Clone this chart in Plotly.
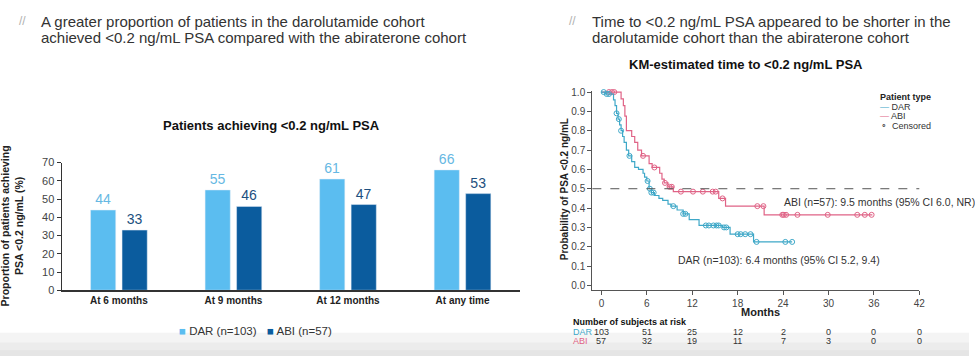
import plotly.graph_objects as go

W, H = 975, 362
FONT = "Liberation Sans, Arial, sans-serif"

# ---------------- data ----------------
categories = ["At 6 months", "At 9 months", "At 12 months", "At any time"]
dar_pct = [44, 55, 61, 66]
abi_pct = [33, 46, 47, 53]

dar_time = [0, 0.5, 1.6, 1.8, 2.0, 2.2, 2.4, 2.6, 2.8, 3.0, 3.3, 3.6, 4.0, 4.4, 4.9, 5.5, 5.7, 6.0,
            6.3, 6.6, 7.0, 7.6, 8.1, 8.8, 9.2, 10.0, 10.8, 11.6, 12.9, 16.0, 17.0, 20.1, 25.2]
dar_surv = [1.0, 0.99, 0.96, 0.93, 0.89, 0.86, 0.83, 0.80, 0.77, 0.74, 0.70, 0.67, 0.64, 0.61, 0.60,
            0.58, 0.56, 0.54, 0.50, 0.48, 0.465, 0.45, 0.44, 0.42, 0.41, 0.39, 0.37, 0.34, 0.31,
            0.30, 0.265, 0.225, 0.225]
dar_cens_time = [0.3, 0.7, 1.0, 2.0, 2.3, 2.6, 3.7, 6.1, 6.4, 6.6, 6.9, 9.5, 10.8, 11.1, 13.8, 14.2,
                 14.8, 15.2, 15.5, 16.2, 16.5, 18.0, 18.4, 19.0, 19.7, 20.5, 24.3, 25.2]
dar_cens_surv = [1.0, 0.99, 0.99, 0.89, 0.86, 0.80, 0.67, 0.54, 0.50, 0.48, 0.48, 0.41, 0.37, 0.37,
                 0.31, 0.31, 0.31, 0.31, 0.31, 0.30, 0.30, 0.265, 0.265, 0.265, 0.265, 0.225, 0.225, 0.225]

abi_time = [0, 2.6, 2.9, 3.1, 3.3, 4.0, 4.4, 4.8, 5.3, 6.3, 6.7, 7.7, 8.0, 8.3, 8.8, 9.5, 15.5, 16.4,
            21.5, 35.8]
abi_surv = [1.0, 0.965, 0.93, 0.875, 0.80, 0.77, 0.74, 0.70, 0.67, 0.63, 0.61, 0.58, 0.55, 0.53,
            0.51, 0.485, 0.45, 0.41, 0.365, 0.365]
abi_cens_time = [1.0, 1.4, 1.7, 5.5, 7.0, 8.4, 9.0, 9.3, 10.5, 12.1, 13.4, 14.7, 15.1, 16.0, 20.6,
                 21.4, 23.9, 24.1, 24.4, 25.9, 29.9, 33.8, 34.8, 35.7]
abi_cens_surv = [1.0, 1.0, 1.0, 0.67, 0.61, 0.53, 0.51, 0.51, 0.485, 0.485, 0.485, 0.485, 0.485, 0.45,
                 0.41, 0.41, 0.365, 0.365, 0.365, 0.365, 0.365, 0.365, 0.365, 0.365]

risk_times = [0, 6, 12, 18, 24, 30, 36, 42]
risk_dar = [103, 51, 25, 12, 2, 0, 0, 0]
risk_abi = [57, 32, 19, 11, 7, 3, 0, 0]

# ---------------- styles ----------------
C_DAR_BAR = "#5bbdf0"
C_ABI_BAR = "#0b5c9e"
C_DAR_LBL = "#66b8e3"
C_ABI_LBL = "#1d4f7e"
C_DAR_KM = "#3ea8c8"
C_ABI_KM = "#e06386"
AX = "#555555"


def px(x):
    return x / W


def py(y):
    return 1 - y / H


fig = go.Figure()

# bar chart
fig.add_trace(go.Bar(x=categories, y=dar_pct, marker_color=C_DAR_BAR, text=dar_pct,
                     textposition="outside", cliponaxis=False,
                     textfont=dict(size=14, color=C_DAR_LBL, family=FONT),
                     xaxis="x", yaxis="y", showlegend=False))
fig.add_trace(go.Bar(x=categories, y=abi_pct, marker_color=C_ABI_BAR, text=abi_pct,
                     textposition="outside", cliponaxis=False,
                     textfont=dict(size=14, color=C_ABI_LBL, family=FONT),
                     xaxis="x", yaxis="y", showlegend=False))

# KM curves
fig.add_trace(go.Scatter(x=abi_time, y=abi_surv, mode="lines", line=dict(color=C_ABI_KM, width=1.2, shape="hv"),
                         xaxis="x2", yaxis="y2", showlegend=False, cliponaxis=False))
fig.add_trace(go.Scatter(x=abi_cens_time, y=abi_cens_surv, mode="markers",
                         marker=dict(symbol="circle-open", size=5, color=C_ABI_KM, line=dict(width=1)),
                         xaxis="x2", yaxis="y2", showlegend=False, cliponaxis=False))
fig.add_trace(go.Scatter(x=dar_time, y=dar_surv, mode="lines", line=dict(color=C_DAR_KM, width=1.2, shape="hv"),
                         xaxis="x2", yaxis="y2", showlegend=False, cliponaxis=False))
fig.add_trace(go.Scatter(x=dar_cens_time, y=dar_cens_surv, mode="markers",
                         marker=dict(symbol="circle-open", size=5, color=C_DAR_KM, line=dict(width=1)),
                         xaxis="x2", yaxis="y2", showlegend=False, cliponaxis=False))

annotations = []


def ann(x, y, text, size=12, color="#333333", xanchor="center", yanchor="middle", bold=False, **kw):
    if bold:
        text = "<b>" + text + "</b>"
    d = dict(x=x, y=y, text=text, showarrow=False, xanchor=xanchor, yanchor=yanchor,
             font=dict(size=size, color=color, family=FONT))
    d.setdefault("xref", "paper")
    d.setdefault("yref", "paper")
    d.update(kw)
    annotations.append(d)


# headers
ann(px(17), py(16), "//", size=12, color="#b0b0b0", xanchor="left")
ann(px(39), py(16), "A greater proportion of patients in the darolutamide cohort", size=15, xanchor="left")
ann(px(39), py(33), "achieved <0.2 ng/mL PSA compared with the abiraterone cohort", size=15, xanchor="left")
ann(px(571), py(16), "//", size=12, color="#b0b0b0", xanchor="left")
ann(px(594), py(16), "Time to <0.2 ng/mL PSA appeared to be shorter in the", size=15, xanchor="left")
ann(px(594), py(33), "darolutamide cohort than the abiraterone cohort", size=15, xanchor="left")

# chart titles
ann(px(273), py(124), "Patients achieving <0.2 ng/mL PSA", size=13, color="#111111", bold=True)
ann(px(751), py(61), "KM-estimated time to <0.2 ng/mL PSA", size=13, color="#111111", bold=True)

# bar y title
ann(px(13), py(227), "Proportion of patients achieving<br>PSA <0.2 ng/mL (%)", size=10.5, color="#222222",
    bold=True, textangle=-90)

# bar legend
ann(px(178), py(336), "<span style='color:%s'>■</span> DAR (n=103)" % C_DAR_BAR, size=11.5, xanchor="left")
ann(px(267), py(336), "<span style='color:%s'>■</span> ABI (n=57)" % C_ABI_BAR, size=11.5, xanchor="left")

# KM y title
ann(px(568), py(190), "Probability of PSA <0.2 ng/mL", size=10, color="#222222", bold=True, textangle=-90)
ann(px(765), py(317), "Months", size=11, color="#222222", bold=True)

# KM legend
ann(px(883), py(94), "Patient type", size=9, color="#222222", bold=True, xanchor="left")
ann(px(883), py(104), "<span style='color:%s'>—</span> DAR" % C_DAR_KM, size=9, xanchor="left")
ann(px(883), py(114), "<span style='color:%s'>—</span> ABI" % C_ABI_KM, size=9, xanchor="left")
ann(px(884), py(124), "<span style='color:#444'>∘</span>  Censored", size=9, xanchor="left")

# median labels
ann(23.9, 0.43, "ABI (n=57): 9.5 months (95% CI 6.0, NR)", size=10.5, xanchor="left", xref="x2", yref="y2")
ann(9.8, 0.13, "DAR (n=103): 6.4 months (95% CI 5.2, 9.4)", size=10.5, xanchor="left", xref="x2", yref="y2")

# risk table
ann(px(575), py(327), "Number of subjects at risk", size=9, color="#111111", bold=True, xanchor="left")
ann(px(575), py(337), "DAR", size=9, color=C_DAR_KM, xanchor="left")
ann(px(575), py(347), "ABI", size=9, color=C_ABI_KM, xanchor="left")
for t, d, a in zip(risk_times, risk_dar, risk_abi):
    ann(t, py(337), str(d), size=9, color="#333333", xref="x2", yref="paper")
    ann(t, py(347), str(a), size=9, color="#333333", xref="x2", yref="paper")

shapes = [
    # faint gray band at bottom (slide photo)
    dict(type="rect", xref="paper", yref="paper", x0=0, x1=1, y0=0, y1=py(338), fillcolor="#f4f4f4",
         line_width=0, layer="below"),
    dict(type="rect", xref="paper", yref="paper", x0=0, x1=1, y0=0, y1=py(348), fillcolor="#ececec",
         line_width=0, layer="below"),
    dict(type="rect", xref="paper", yref="paper", x0=0, x1=1, y0=0, y1=py(356), fillcolor="#e5e5e5",
         line_width=0, layer="below"),
    # median reference line
    dict(type="line", xref="x2 domain", yref="y2", x0=0, x1=1, y0=0.5, y1=0.5,
         line=dict(color="#555555", width=1, dash="dash")),
]

fig.update_layout(
    width=W, height=H, autosize=False,
    margin=dict(l=0, r=0, t=0, b=0),
    paper_bgcolor="white", plot_bgcolor="rgba(0,0,0,0)",
    font=dict(family=FONT, color="#333333"),
    barmode="group", bargap=0.45, bargroupgap=0.2,
    annotations=annotations, shapes=shapes,
    xaxis=dict(domain=[px(62), px(523)], showline=True, linecolor="#333333", linewidth=1.5,
               ticks="", showgrid=False, zeroline=False, anchor="y",
               tickfont=dict(size=10, color="#222222", family="Liberation Sans, Arial"),
               tickprefix="<b>", ticksuffix="</b>"),
    yaxis=dict(domain=[py(294), py(162)], range=[0, 70], dtick=10, showline=True, linecolor="#333333",
               linewidth=1.2, ticks="outside", ticklen=4, tickcolor="#333333", showgrid=False,
               zeroline=False, anchor="x", tickfont=dict(size=11, color="#444444")),
    xaxis2=dict(domain=[px(596), px(925)], range=[-1.2, 42], tickvals=risk_times, showline=True,
                linecolor=AX, linewidth=1.2, ticks="outside", ticklen=4, tickcolor=AX, showgrid=False,
                zeroline=False, anchor="y2", tickfont=dict(size=10, color="#444444")),
    yaxis2=dict(domain=[py(294), py(88)], range=[-0.025, 1.005], tickvals=[i / 10 for i in range(11)],
                tickformat=".1f", showline=True, linecolor=AX, linewidth=1.2, ticks="outside", ticklen=4,
                tickcolor=AX, showgrid=False, zeroline=False, anchor="x2",
                tickfont=dict(size=10, color="#444444")),
)

fig.write_html("out.html", config={"displayModeBar": False},
               post_script="document.body.style.margin='0';document.body.style.overflow='hidden';")
